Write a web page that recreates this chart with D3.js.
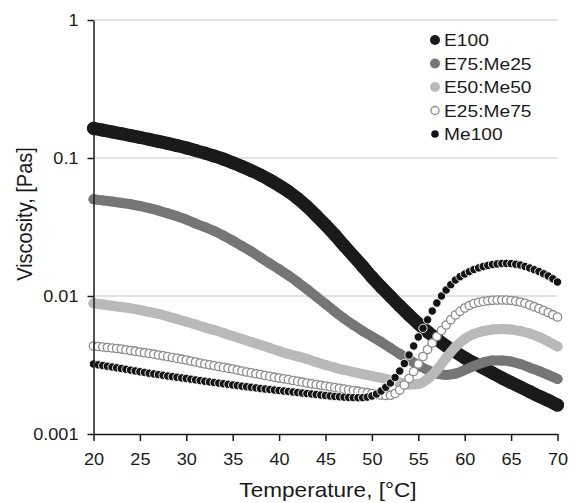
<!DOCTYPE html>
<html>
<head>
<meta charset="utf-8">
<script src="https://cdn.jsdelivr.net/npm/d3@7"></script>
<style>
  body { margin: 0; background: #fff; }
  svg { display: block; }
  text { font-family: "Liberation Sans", Arial, sans-serif; fill: #1a1a1a; }
</style>
</head>
<body>
<div id="chart"></div>
<script>
// temperature, [°C]
var temps = d3.range(20, 71, 1)        // every 1 °C, for the three solid series
var tempsHalf = d3.range(20, 70.25, 0.5) // every 0.5 °C, for the two marker series

// viscosity, [Pas]
var e100 = [0.164, 0.1593, 0.1546, 0.1500, 0.1455, 0.1410, 0.1366, 0.1321, 0.1276, 0.1230,
  0.1184, 0.1135, 0.1085, 0.1034, 0.0982, 0.0924, 0.0868, 0.0810, 0.0753, 0.0693,
  0.0632, 0.0572, 0.0509, 0.0445, 0.0383, 0.0327, 0.0277, 0.0232, 0.0195, 0.0164,
  0.0137, 0.0116, 0.00992, 0.00847, 0.00728, 0.00630, 0.00550, 0.00488, 0.00434, 0.00393,
  0.00356, 0.00327, 0.00301, 0.00277, 0.00255, 0.00236, 0.00219, 0.00203, 0.00188, 0.00175,
  0.00162]
var e75me25 = [0.0502, 0.0493, 0.0484, 0.0473, 0.0462, 0.0449, 0.0433, 0.0416, 0.0397, 0.0378,
  0.0358, 0.0335, 0.0316, 0.0296, 0.0274, 0.0252, 0.0230, 0.0210, 0.0190, 0.0172,
  0.0156, 0.0141, 0.0126, 0.0112, 0.00991, 0.00875, 0.00772, 0.00687, 0.00617, 0.00558,
  0.00509, 0.00464, 0.00420, 0.00380, 0.00347, 0.00316, 0.00291, 0.00274, 0.00268, 0.00274,
  0.00291, 0.00311, 0.00330, 0.00341, 0.00341, 0.00335, 0.00321, 0.00303, 0.00286, 0.00268,
  0.00250]
var e50me50 = [0.00885, 0.00868, 0.00849, 0.00832, 0.00814, 0.00792, 0.00766, 0.00741, 0.00710, 0.00681,
  0.00651, 0.00621, 0.00591, 0.00567, 0.00540, 0.00513, 0.00488, 0.00464, 0.00442, 0.00420,
  0.00399, 0.00380, 0.00365, 0.00349, 0.00332, 0.00316, 0.00303, 0.00291, 0.00281, 0.00272,
  0.00263, 0.00255, 0.00246, 0.00236, 0.00228, 0.00230, 0.00250, 0.00291, 0.00356, 0.00427,
  0.00488, 0.00531, 0.00557, 0.00572, 0.00577, 0.00572, 0.00557, 0.00535, 0.00505, 0.00468,
  0.00431]
var e25me75 = [0.004341, 0.004305, 0.004269, 0.004233, 0.004198, 0.004163, 0.004128, 0.004080, 0.004026, 0.003981,
  0.003928, 0.003882, 0.003831, 0.003787, 0.003736, 0.003687, 0.003638, 0.003583, 0.003530, 0.003483,
  0.003437, 0.003381, 0.003324, 0.003269, 0.003215, 0.003172, 0.003131, 0.003084, 0.003038, 0.002998,
  0.002958, 0.002909, 0.002860, 0.002813, 0.002771, 0.002735, 0.002698, 0.002653, 0.002614, 0.002579,
  0.002544, 0.002512, 0.002479, 0.002442, 0.002405, 0.002374, 0.002342, 0.002311, 0.002284, 0.002254,
  0.002227, 0.002198, 0.002173, 0.002144, 0.002118, 0.002090, 0.002066, 0.002042, 0.002015, 0.001992,
  0.001965, 0.001939, 0.001916, 0.001901, 0.001910, 0.001965, 0.002084, 0.002265, 0.002525, 0.002837,
  0.003215, 0.003644, 0.004095, 0.004565, 0.005087, 0.005623, 0.006165, 0.006724, 0.007283, 0.007746,
  0.008185, 0.008534, 0.008824, 0.009002, 0.009139, 0.009230, 0.009307, 0.009340, 0.009354, 0.009340,
  0.009277, 0.009183, 0.009047, 0.008853, 0.008606, 0.008365, 0.008117, 0.007851, 0.007593, 0.007320,
  0.007044]
var me100 = [0.003215, 0.003172, 0.003135, 0.003095, 0.003058, 0.003018, 0.002983, 0.002943, 0.002904, 0.002865,
  0.002827, 0.002795, 0.002757, 0.002725, 0.002693, 0.002662, 0.002631, 0.002604, 0.002575, 0.002549,
  0.002524, 0.002495, 0.002466, 0.002438, 0.002409, 0.002385, 0.002361, 0.002337, 0.002314, 0.002291,
  0.002268, 0.002245, 0.002222, 0.002202, 0.002180, 0.002158, 0.002136, 0.002118, 0.002101, 0.002083,
  0.002066, 0.002049, 0.002032, 0.002015, 0.001998, 0.001981, 0.001965, 0.001949, 0.001932, 0.001916,
  0.001901, 0.001885, 0.001872, 0.001860, 0.001850, 0.001841, 0.001835, 0.001832, 0.001835, 0.001850,
  0.001885, 0.001949, 0.002049, 0.002180, 0.002342, 0.002566, 0.002860, 0.003242, 0.003736, 0.004341,
  0.005045, 0.005833, 0.006724, 0.007785, 0.008898, 0.01000, 0.01105, 0.01208, 0.01306, 0.01380,
  0.01443, 0.01502, 0.01556, 0.01598, 0.01636, 0.01666, 0.01691, 0.01708, 0.01719, 0.01722,
  0.01716, 0.01699, 0.01677, 0.01638, 0.01595, 0.01551, 0.01504, 0.01450, 0.01396, 0.01332,
  0.01263]

var seriesNames = ['E100', 'E75:Me25', 'E50:Me50', 'E25:Me75', 'Me100']
var xTicks = [20, 25, 30, 35, 40, 45, 50, 55, 60, 65, 70]
var yTicks = [0.001, 0.01, 0.1, 1]
var yTickLabels = ['0.001', '0.01', '0.1', '1']

var w = 570
var h = 503
var sx = 1.13 // the text in the original is a bit stretched sideways

var svg = d3.select('#chart').append('svg').attr('width', w).attr('height', h)

var x = d3.scaleLinear().domain([20, 70]).range([93.5, 557.5])
var y = d3.scaleLog().domain([0.001, 1]).range([434, 20])

// gridlines
svg.append('g').selectAll('line').data(yTicks.slice(1)).enter().append('line')
  .attr('x1', x(20)).attr('x2', x(70))
  .attr('y1', function (d) { return y(d) }).attr('y2', function (d) { return y(d) })
  .attr('stroke', '#d9d9d9').attr('stroke-width', 1.3)

var styles = [
  { r: 6.5, fill: '#1a1a1a', stroke: '#1a1a1a', sw: 0, line: true, lr: 5 },
  { r: 5, fill: '#767676', stroke: '#767676', sw: 0, line: true, lr: 5 },
  { r: 5, fill: '#b9b9b9', stroke: '#b9b9b9', sw: 0, line: true, lr: 5 },
  { r: 4.2, fill: '#ffffff', stroke: '#8c8c8c', sw: 1.3, line: false, lr: 4 },
  { r: 4.2, fill: '#141414', stroke: '#ffffff', sw: 0.9, line: false, lr: 3.8 }
]
var allSeries = [
  { t: temps, v: e100 },
  { t: temps, v: e75me25 },
  { t: temps, v: e50me50 },
  { t: tempsHalf, v: e25me75 },
  { t: tempsHalf, v: me100 }
]

allSeries.forEach(function (ser, k) {
  var s = styles[k]
  var g = svg.append('g')
  if (s.line) {
    var line = d3.line()
      .x(function (d, i) { return x(ser.t[i]) })
      .y(function (d) { return y(d) })
      .curve(d3.curveMonotoneX)
    g.append('path')
      .attr('d', line(ser.v))
      .attr('fill', 'none')
      .attr('stroke', s.fill)
      .attr('stroke-width', s.r * 2)
      .attr('stroke-linecap', 'round')
  }
  g.selectAll('circle').data(ser.v).enter().append('circle')
    .attr('cx', function (d, i) { return x(ser.t[i]) })
    .attr('cy', function (d) { return y(d) })
    .attr('r', s.r)
    .attr('fill', s.fill)
    .attr('stroke', s.stroke)
    .attr('stroke-width', s.sw)
})

// axes
var gx = svg.append('g')
  .attr('transform', 'translate(0,434)')
  .call(d3.axisBottom(x).tickValues(xTicks).tickSize(7).tickSizeOuter(0).tickPadding(13))
gx.attr('font-size', 16).attr('font-family', null).attr('color', '#1a1a1a')
gx.selectAll('text').attr('transform', 'scale(' + sx + ',1)')

var gy = svg.append('g')
  .attr('transform', 'translate(93.5,0)')
  .call(d3.axisLeft(y).tickValues(yTicks).tickSize(6).tickSizeOuter(0).tickPadding(7.3)
    .tickFormat(function (d, i) { return yTickLabels[i] }))
gy.attr('font-size', 16).attr('font-family', null).attr('color', '#1a1a1a')
gy.selectAll('text').attr('transform', 'scale(' + sx + ',1)')

svg.selectAll('.domain, .tick line').attr('stroke-width', 1.5)

// axis titles
svg.append('text')
  .attr('transform', 'translate(328,497) scale(' + sx + ',1)')
  .attr('text-anchor', 'middle')
  .attr('font-size', 20)
  .text('Temperature, [°C]')

svg.append('text')
  .attr('transform', 'translate(32,214) scale(' + sx + ',1) rotate(-90)')
  .attr('text-anchor', 'middle')
  .attr('font-size', 20)
  .text('Viscosity, [Pas]')

// legend
var legend = svg.append('g')
seriesNames.forEach(function (name, k) {
  var s = styles[k]
  var cy = 40 + k * 23.5
  legend.append('circle')
    .attr('cx', 435).attr('cy', cy).attr('r', s.lr)
    .attr('fill', s.fill)
    .attr('stroke', k === 4 ? 'none' : s.stroke)
    .attr('stroke-width', s.sw)
  legend.append('text')
    .attr('transform', 'translate(444,' + (cy + 6) + ') scale(' + sx + ',1)')
    .attr('font-size', 17)
    .text(name)
})
</script>
</body>
</html>
